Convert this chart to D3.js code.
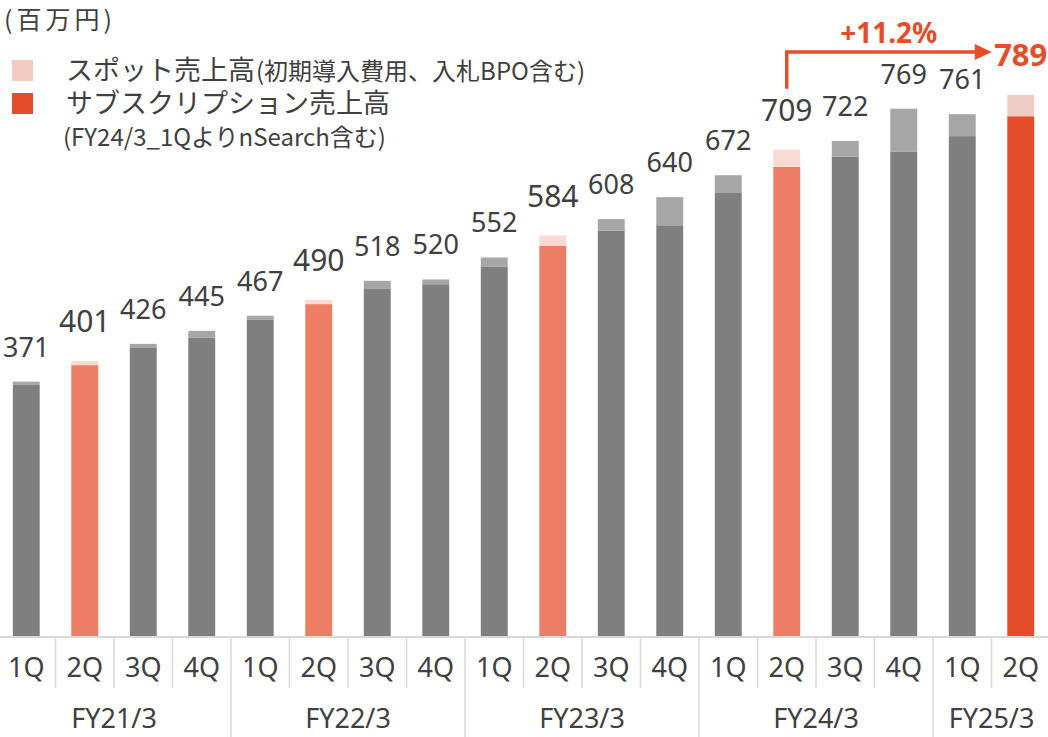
<!DOCTYPE html>
<html>
<head>
<meta charset="utf-8">
<script src="https://cdn.jsdelivr.net/npm/d3@7"></script>
<style>
  body { margin: 0; background: #fff; }
  svg text { font-family: "Noto Sans CJK JP", "Noto Sans", sans-serif; fill: #404040; }
</style>
</head>
<body>
<svg id="chart" width="1048" height="737"></svg>
<script>
// values in million yen
var fiscalYears = ["FY21/3", "FY22/3", "FY23/3", "FY24/3", "FY25/3"]
var quarterNames = ["1Q", "2Q", "3Q", "4Q", "1Q", "2Q", "3Q", "4Q", "1Q", "2Q", "3Q", "4Q", "1Q", "2Q", "3Q", "4Q", "1Q", "2Q"]
var yearOf = [0, 0, 0, 0, 1, 1, 1, 1, 2, 2, 2, 2, 3, 3, 3, 3, 4, 4]
var subscription = [366, 395, 420, 435, 461, 484, 506, 513, 539, 569, 591, 599, 647, 684, 699, 706, 729, 758]
var spot = [5, 6, 6, 10, 6, 6, 12, 7, 13, 15, 17, 41, 25, 25, 23, 63, 32, 31]
var totals = [371, 401, 426, 445, 467, 490, 518, 520, 552, 584, 608, 640, 672, 709, 722, 769, 761, 789]
var growthLabel = "+11.2%"

var svg = d3.select("#chart");
var baseY = 636;
var last = totals.length - 1;

var x = d3.scaleBand()
    .domain(d3.range(totals.length))
    .range([-3, 1050])
    .paddingInner(0.54)
    .paddingOuter(0.27);

var y = d3.scaleLinear()
    .domain([0, 800])
    .range([baseY, baseY - 800 * 0.6857]);

function subColor(i) {
  if (i === last) return "#e44d2a";
  if (quarterNames[i] === "2Q") return "#ee7d65";
  return "#7f7f7f";
}
function spotColor(i) {
  if (i === last) return "#f0cdc4";
  if (quarterNames[i] === "2Q") return "#f9dbd2";
  return "#a6a6a6";
}

var bars = svg.append("g").selectAll("g")
    .data(d3.range(totals.length))
    .enter().append("g");

bars.append("rect")
    .attr("x", function(i) { return x(i); })
    .attr("width", x.bandwidth())
    .attr("y", function(i) { return y(subscription[i]); })
    .attr("height", function(i) { return y(0) - y(subscription[i]); })
    .attr("fill", subColor);

bars.append("rect")
    .attr("x", function(i) { return x(i); })
    .attr("width", x.bandwidth())
    .attr("y", function(i) { return y(subscription[i] + spot[i]); })
    .attr("height", function(i) { return y(subscription[i]) - y(subscription[i] + spot[i]); })
    .attr("fill", spotColor);

// value labels
bars.append("text")
    .attr("x", function(i) { return x(i) + x.bandwidth() / 2; })
    .attr("y", function(i) {
      var gap = quarterNames[i] === "2Q" ? 29 : 25;
      return y(subscription[i] + spot[i]) - gap;
    })
    .attr("text-anchor", "middle")
    .style("font-family", "'Noto Sans', sans-serif")
    .style("font-size", function(i) {
      if (i === last) return "31px";
      return quarterNames[i] === "2Q" ? "30px" : "27px";
    })
    .style("font-weight", function(i) { return i === last ? "bold" : "normal"; })
    .style("fill", function(i) { return i === last ? "#e44d2a" : "#404040"; })
    .text(function(i) { return totals[i]; });

// axis line + category separators
svg.append("line")
    .attr("x1", 0).attr("x2", 1048)
    .attr("y1", baseY + 1).attr("y2", baseY + 1)
    .attr("stroke", "#d9d9d9").attr("stroke-width", 2);

var step = x.step();
d3.range(1, totals.length).forEach(function(i) {
  var sx = x(i) - x.paddingInner() * step / 2;
  var yearBreak = yearOf[i] !== yearOf[i - 1];
  svg.append("line")
      .attr("x1", sx).attr("x2", sx)
      .attr("y1", baseY + 2).attr("y2", yearBreak ? 737 : 688)
      .attr("stroke", "#d9d9d9").attr("stroke-width", 1.5);
});

svg.append("g").selectAll("text")
    .data(d3.range(totals.length))
    .enter().append("text")
    .attr("x", function(i) { return x(i) + x.bandwidth() / 2; })
    .attr("y", 677)
    .attr("text-anchor", "middle")
    .style("font-family", "'Noto Sans', sans-serif")
    .style("font-size", "27px")
    .text(function(i) { return quarterNames[i]; });

svg.append("g").selectAll("text")
    .data(fiscalYears)
    .enter().append("text")
    .attr("x", function(d, k) {
      var idx = d3.range(totals.length).filter(function(i) { return yearOf[i] === k; });
      return (x(idx[0]) + x(idx[idx.length - 1]) + x.bandwidth()) / 2;
    })
    .attr("y", 728)
    .attr("text-anchor", "middle")
    .style("font-family", "'Noto Sans', sans-serif")
    .style("font-size", "27px")
    .text(function(d) { return d; });

// growth arrow from FY24/3 2Q to FY25/3 2Q
var ax0 = x(13) + x.bandwidth() / 2;
var ax1 = x(last) + x.bandwidth() / 2 - 30;
var ay = 52;
svg.append("path")
    .attr("d", "M" + ax0 + "," + (y(totals[13]) - 61) + "V" + ay + "H" + (ax1 - 14))
    .attr("fill", "none")
    .attr("stroke", "#e44d2a")
    .attr("stroke-width", 3.5);
svg.append("path")
    .attr("d", "M" + (ax1 - 16) + "," + (ay - 8) + "L" + (ax1 + 1) + "," + ay + "L" + (ax1 - 16) + "," + (ay + 8) + "Z")
    .attr("fill", "#e44d2a");
svg.append("text")
    .attr("x", (ax0 + ax1) / 2 + 0)
    .attr("y", 43)
    .attr("text-anchor", "middle")
    .style("font-family", "'Noto Sans', sans-serif")
    .style("font-size", "28px")
    .style("font-weight", "bold")
    .style("fill", "#e44d2a")
    .text(growthLabel);

// unit + legend
svg.append("text")
    .attr("x", 4).attr("y", 29)
    .style("font-size", "25px")
    .style("letter-spacing", "4px")
    .text("(百万円)");

svg.append("rect").attr("x", 12).attr("y", 60).attr("width", 21).attr("height", 21).attr("fill", "#f2cbc3");
svg.append("rect").attr("x", 12).attr("y", 93).attr("width", 21).attr("height", 21).attr("fill", "#e44d2a");

var leg1 = svg.append("text").attr("x", 66).attr("y", 80)
    .style("font-size", "27px")
    .text("スポット売上高");
var w1 = leg1.node().getComputedTextLength();
svg.append("text").attr("x", 66 + w1 + 1).attr("y", 80)
    .style("font-size", "24px")
    .text("(初期導入費用、入札BPO含む)");

svg.append("text").attr("x", 66).attr("y", 113)
    .style("font-size", "27px")
    .text("サブスクリプション売上高");
svg.append("text").attr("x", 63).attr("y", 146)
    .style("font-size", "24px")
    .text("(FY24/3_1QよりnSearch含む)");
</script>
</body>
</html>
